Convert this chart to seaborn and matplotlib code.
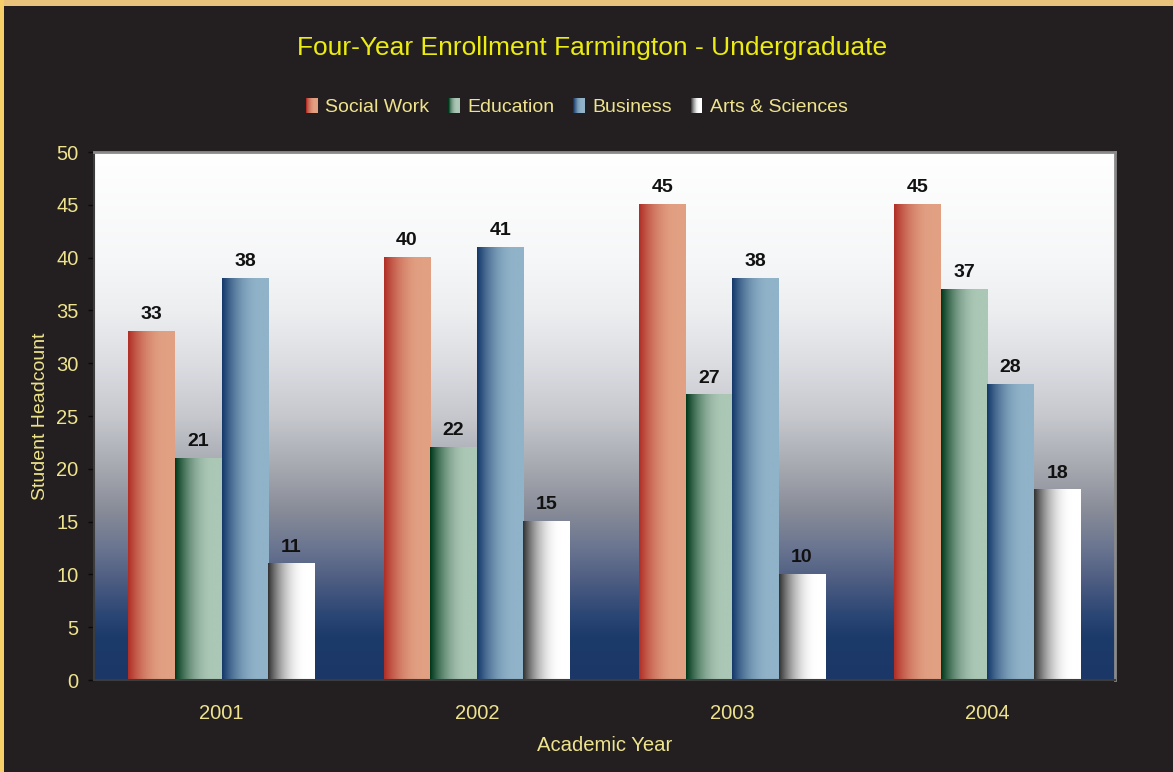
import numpy as np
import pandas as pd
import matplotlib
matplotlib.use("Agg")
import matplotlib.pyplot as plt
from matplotlib.colors import to_rgb, LinearSegmentedColormap
from matplotlib.patches import Rectangle, Patch
from matplotlib.legend_handler import HandlerBase
import seaborn as sns

# ---- data ----
years = ["2001", "2002", "2003", "2004"]
programs = ["Social Work", "Education", "Business", "Arts & Sciences"]
social_work = [33, 40, 45, 45]
education = [21, 22, 27, 37]
business = [38, 41, 38, 28]
arts_sciences = [11, 15, 10, 18]
y_ticks = [0, 5, 10, 15, 20, 25, 30, 35, 40, 45, 50]

title = "Four-Year Enrollment Farmington - Undergraduate"
x_label = "Academic Year"
y_label = "Student Headcount"

# ---- styling ----
BG = "#231f20"
TEXT = "#eee38c"
TITLE = "#ecec10"
# (dark edge, light edge) for each program's horizontal bar gradient
grad_colors = {
    "Social Work": ("#b02e26", "#e2a083"),
    "Education": ("#00381b", "#abc7b5"),
    "Business": ("#14386a", "#90b3c9"),
    "Arts & Sciences": ("#333333", "#ffffff"),
}

sns.set_theme(style="white")
plt.rcParams["font.family"] = ["Liberation Sans", "DejaVu Sans"]

df = pd.DataFrame({
    "Year": np.repeat(years, len(programs)),
    "Program": programs * len(years),
    "Count": np.array([social_work, education, business, arts_sciences]).T.ravel(),
})

fig = plt.figure(figsize=(11.73, 7.72), dpi=100, facecolor=BG)
ax = fig.add_axes([94 / 1173, 1 - 680 / 772, (1115 - 94) / 1173, (680 - 152) / 772])

palette = {p: grad_colors[p][1] for p in programs}
sns.barplot(data=df, x="Year", y="Count", hue="Program", order=years,
            hue_order=programs, palette=palette, width=0.73, gap=0,
            errorbar=None, legend=False, ax=ax, zorder=2)


def shade(t):
    t = np.clip(t / 0.8, 0, 1)
    return 1 - (1 - t) ** 2


def gradient_row(dark, light, n=64):
    d, l = np.array(to_rgb(dark)), np.array(to_rgb(light))
    f = shade(np.linspace(0, 1, n))[:, None]
    return (d + (l - d) * f)[None, :, :]


# replace flat bars with horizontal gradients, and label them
bars = [p for p in ax.patches if isinstance(p, Rectangle)]
for i, bar in enumerate(bars):
    prog = programs[i // len(years)]
    x, w, h = bar.get_x(), bar.get_width(), bar.get_height()
    ax.imshow(gradient_row(*grad_colors[prog]), extent=(x, x + w, 0, h),
              aspect="auto", interpolation="bilinear", zorder=2)
    bar.set_visible(False)
    ax.annotate(f"{int(round(h))}", (x + w / 2, h), xytext=(0, 6),
                textcoords="offset points", ha="center", va="bottom",
                fontsize=14, fontweight="bold", color="#111111", zorder=4)

# vertical background gradient of the plot area
stops = [(0.0, "#1b3767"), (0.08, "#1c3a6a"), (0.12, "#2a4674"),
         (0.18, "#4a5a80"), (0.25, "#6a7590"), (0.32, "#888c98"),
         (0.40, "#a6a8b0"), (0.50, "#c6c8ce"), (0.60, "#dcdde1"),
         (0.70, "#eceef0"), (0.80, "#f6f7f8"), (1.0, "#ffffff")]
bg_cmap = LinearSegmentedColormap.from_list("bgfade", stops)
ax.imshow(np.linspace(0, 1, 256)[:, None], cmap=bg_cmap, origin="lower",
          extent=(-0.5, len(years) - 0.5, 0, 50), aspect="auto", zorder=0)

ax.set_xlim(-0.5, len(years) - 0.5)
ax.set_ylim(0, 50)
ax.set_yticks(y_ticks)
ax.set_yticklabels([str(v) for v in y_ticks])
ax.set_xticks(range(len(years)))
ax.set_xticklabels(years)
ax.set_xticks(np.arange(-0.5, len(years)), minor=True)
ax.tick_params(axis="x", which="major", length=0, pad=17, labelsize=14.5, colors=TEXT)
ax.tick_params(axis="x", which="minor", length=6, width=1.2, color="#0a0a0a", direction="out")
ax.tick_params(axis="y", length=4, width=1.0, color="#0a0a0a", pad=7,
               labelsize=14.5, labelcolor=TEXT, left=True)
ax.grid(False)

ax.set_xlabel(x_label, color=TEXT, fontsize=14.6, labelpad=9.5)
ax.set_ylabel(y_label, color=TEXT, fontsize=14, labelpad=5)

for side in ("top", "right"):
    ax.spines[side].set_color("#8a8a8a")
    ax.spines[side].set_linewidth(2)
for side in ("bottom", "left"):
    ax.spines[side].set_color("#3c3c3c")
    ax.spines[side].set_linewidth(1.5)
for s in ax.spines.values():
    s.set_zorder(5)


# legend with gradient swatches
class GradientSwatch(HandlerBase):
    def __init__(self, dark, light, steps=24):
        super().__init__()
        self.dark, self.light, self.steps = dark, light, steps

    def create_artists(self, legend, orig_handle, xdescent, ydescent,
                       width, height, fontsize, trans):
        row = gradient_row(self.dark, self.light, self.steps)[0]
        dw = width / self.steps
        out = []
        for k in range(self.steps):
            out.append(Rectangle((-xdescent + k * dw, -ydescent), dw * 1.05, height,
                                 facecolor=row[k], edgecolor="none", transform=trans))
        return out


handles = [Patch(label=p) for p in programs]
hmap = {h: GradientSwatch(*grad_colors[p]) for h, p in zip(handles, programs)}
leg = fig.legend(handles=handles, handler_map=hmap, loc="center",
                 bbox_to_anchor=(577 / 1173, 1 - 107 / 772), ncol=4, frameon=False,
                 fontsize=14, handlelength=0.6, handleheight=0.85,
                 handletextpad=0.4, columnspacing=0.95)
for t in leg.get_texts():
    t.set_color(TEXT)

fig.text(592 / 1173, 1 - 48 / 772, title, ha="center", va="center",
         color=TITLE, fontsize=19)

# gold frame strips along the top and left edges
fig.patches.append(Rectangle((0, 1 - 6 / 772), 1, 6 / 772, transform=fig.transFigure,
                             facecolor="#e9c27c", edgecolor="none", zorder=10))
fig.patches.append(Rectangle((0, 0), 4 / 1173, 1, transform=fig.transFigure,
                             facecolor="#f7cf68", edgecolor="none", zorder=10))

fig.savefig("out.png", dpi=100, facecolor=BG)
